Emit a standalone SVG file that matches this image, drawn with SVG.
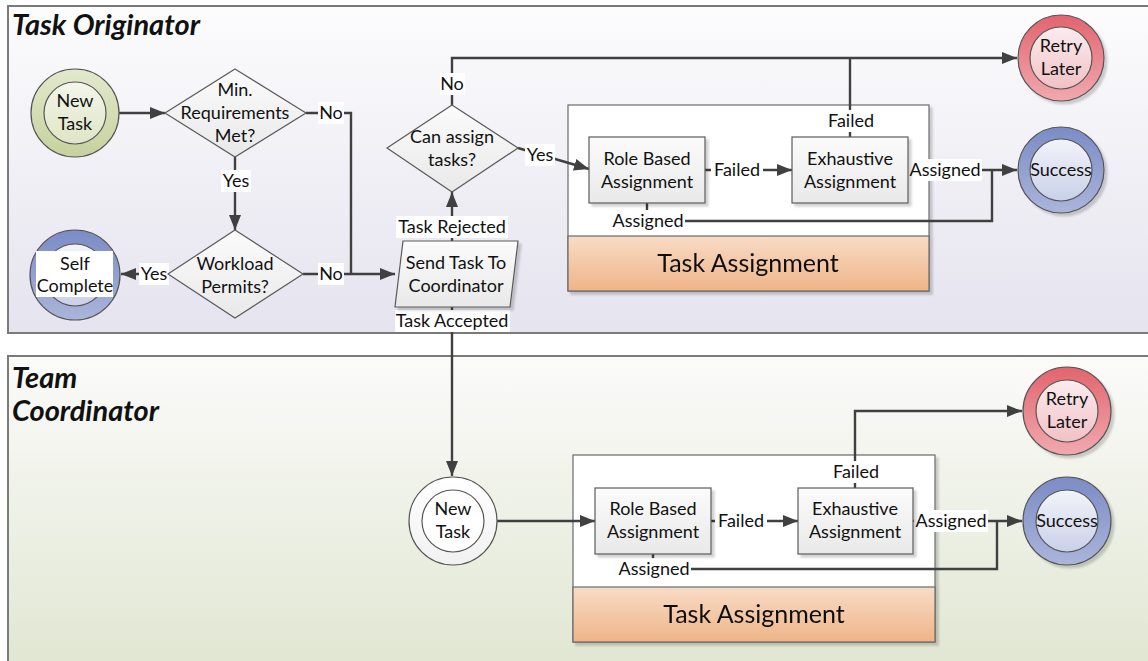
<svg xmlns="http://www.w3.org/2000/svg" width="1148" height="661" viewBox="0 0 1148 661">
  <defs>
    <linearGradient id="laneTop" x1="0" y1="0" x2="0" y2="1">
      <stop offset="0" stop-color="#fcfcfd"/>
      <stop offset="1" stop-color="#e5e3ee"/>
    </linearGradient>
    <linearGradient id="laneBottom" x1="0" y1="0" x2="0" y2="1">
      <stop offset="0" stop-color="#fbfbfa"/>
      <stop offset="1" stop-color="#e0e6d1"/>
    </linearGradient>
    <linearGradient id="boxFill" x1="0" y1="0" x2="0" y2="1">
      <stop offset="0" stop-color="#fbfbfb"/>
      <stop offset="1" stop-color="#e9e9e9"/>
    </linearGradient>
    <linearGradient id="bandFill" x1="0" y1="0" x2="0" y2="1">
      <stop offset="0" stop-color="#f8dcc6"/>
      <stop offset="1" stop-color="#efb488"/>
    </linearGradient>
    <linearGradient id="greenRing" x1="0" y1="0" x2="0" y2="1">
      <stop offset="0" stop-color="#e3e9cd"/>
      <stop offset="1" stop-color="#c6d19d"/>
    </linearGradient>
    <linearGradient id="greenCore" x1="0" y1="0" x2="0" y2="1">
      <stop offset="0" stop-color="#f4f6ea"/>
      <stop offset="1" stop-color="#dfe5c6"/>
    </linearGradient>
    <linearGradient id="blueRing" x1="0" y1="0" x2="0" y2="1">
      <stop offset="0" stop-color="#7b8cc6"/>
      <stop offset="1" stop-color="#aab5da"/>
    </linearGradient>
    <linearGradient id="blueCore" x1="0" y1="0" x2="0" y2="1">
      <stop offset="0" stop-color="#f3f4fa"/>
      <stop offset="1" stop-color="#c9d0e8"/>
    </linearGradient>
    <linearGradient id="redRing" x1="0" y1="0" x2="0" y2="1">
      <stop offset="0" stop-color="#e2646e"/>
      <stop offset="1" stop-color="#f1a9ae"/>
    </linearGradient>
    <linearGradient id="redCore" x1="0" y1="0" x2="0" y2="1">
      <stop offset="0" stop-color="#fbecee"/>
      <stop offset="1" stop-color="#f1c1c5"/>
    </linearGradient>
    <linearGradient id="whiteRing" x1="0" y1="0" x2="0" y2="1">
      <stop offset="0" stop-color="#ffffff"/>
      <stop offset="1" stop-color="#f1f1f1"/>
    </linearGradient>
    <marker id="arrow" viewBox="0 0 15 12" refX="15" refY="6" markerWidth="15" markerHeight="12" markerUnits="userSpaceOnUse" orient="auto">
      <path d="M0,0 L15,6 L0,12 Z" fill="#404040"/>
    </marker>
    <filter id="shadow" x="-10%" y="-10%" width="130%" height="130%">
      <feOffset dx="3" dy="3" in="SourceAlpha" result="off"/>
      <feGaussianBlur in="off" stdDeviation="1" result="blur"/>
      <feColorMatrix in="blur" type="matrix" values="0 0 0 0 0  0 0 0 0 0  0 0 0 0 0  0 0 0 0.18 0" result="sh"/>
      <feMerge><feMergeNode in="sh"/><feMergeNode in="SourceGraphic"/></feMerge>
    </filter>
  </defs>
  <style>
    text { font-family: Lato, "Liberation Sans", sans-serif; fill: #111; }
    .lane { stroke: #7a7a7a; stroke-width: 2; }
    .title { font-size: 29px; font-weight: bold; font-style: italic; }
    .node { font-size: 18px; text-anchor: middle; }
    .lbl { font-size: 18px; text-anchor: middle; }
    .big { font-size: 25px; text-anchor: middle; }
    .box { fill: url(#boxFill); stroke: #5a5a5a; stroke-width: 1.2; }
    .dia { fill: url(#boxFill); stroke: #5a5a5a; stroke-width: 1.2; }
    .ring { stroke: #555; stroke-width: 1.2; }
    .cont { fill: #ffffff; stroke: #6a6a6a; stroke-width: 1.2; }
    .band { fill: url(#bandFill); stroke: #6a6a6a; stroke-width: 1.2; }
    .edge { fill: none; stroke: #404040; stroke-width: 2.4; }
    .bg { fill: #ffffff; }
  </style>

  <!-- swimlanes -->
  <g id="lane-originator">
    <rect x="8" y="6" width="1150" height="327" fill="url(#laneTop)" class="lane"/>
    <text x="12" y="35" class="title">Task Originator</text>
  </g>
  <g id="lane-coordinator">
    <rect x="8" y="356" width="1150" height="320" fill="url(#laneBottom)" class="lane"/>
    <text x="12" y="388" class="title">Team</text>
    <text x="12" y="421" class="title">Coordinator</text>
  </g>

  <!-- task assignment containers -->
  <g id="assign-top" filter="url(#shadow)">
    <rect x="568" y="105" width="361" height="186" class="cont"/>
    <rect x="568" y="236" width="361" height="55" class="band"/>
    <text x="748" y="272" class="big">Task Assignment</text>
  </g>
  <g id="assign-bottom" filter="url(#shadow)">
    <rect x="573" y="455" width="362" height="187" class="cont"/>
    <rect x="573" y="587" width="362" height="55" class="band"/>
    <text x="754" y="623" class="big">Task Assignment</text>
  </g>

  <!-- connectors -->
  <g id="connectors">
    <path d="M119,113 H165" class="edge" marker-end="url(#arrow)"/>
    <path d="M235,157 V230" class="edge" marker-end="url(#arrow)"/>
    <path d="M306,113 H351 V274" class="edge"/>
    <path d="M168,274 H121" class="edge" marker-end="url(#arrow)"/>
    <path d="M303,274 H395" class="edge" marker-end="url(#arrow)"/>
    <path d="M452,241 V192" class="edge" marker-end="url(#arrow)"/>
    <path d="M452,105 V58 H1017" class="edge" marker-end="url(#arrow)"/>
    <path d="M518,148 L589,169" class="edge" marker-end="url(#arrow)"/>
    <path d="M705,170 H792" class="edge" marker-end="url(#arrow)"/>
    <path d="M850,137 V58" class="edge"/>
    <path d="M908,170 H1017" class="edge" marker-end="url(#arrow)"/>
    <path d="M647,203 V221 H992 V170" class="edge"/>
    <path d="M452,307 V476" class="edge" marker-end="url(#arrow)"/>
    <path d="M497,521 H595" class="edge" marker-end="url(#arrow)"/>
    <path d="M711,521 H798" class="edge" marker-end="url(#arrow)"/>
    <path d="M855,488 V411 H1022" class="edge" marker-end="url(#arrow)"/>
    <path d="M913,521 H1022" class="edge" marker-end="url(#arrow)"/>
    <path d="M653,554 V569 H997 V521" class="edge"/>

    <!-- connector labels -->
    <rect x="318" y="102" width="26" height="22" class="bg"/>
    <text x="331" y="119" class="lbl">No</text>
    <rect x="221" y="170" width="30" height="22" class="bg"/>
    <text x="236" y="187" class="lbl">Yes</text>
    <rect x="139" y="263" width="30" height="22" class="bg"/>
    <text x="154" y="280" class="lbl">Yes</text>
    <rect x="318" y="263" width="26" height="22" class="bg"/>
    <text x="331" y="280" class="lbl">No</text>
    <rect x="396" y="216" width="112" height="22" class="bg"/>
    <text x="452" y="233" class="lbl">Task Rejected</text>
    <rect x="395" y="310" width="115" height="22" class="bg"/>
    <text x="452" y="327" class="lbl">Task Accepted</text>
    <rect x="440" y="73" width="25" height="22" class="bg"/>
    <text x="452" y="90" class="lbl">No</text>
    <rect x="525" y="144" width="30" height="22" class="bg"/>
    <text x="540" y="161" class="lbl">Yes</text>
    <rect x="711" y="159" width="52" height="22" class="bg"/>
    <text x="737" y="176" class="lbl">Failed</text>
    <rect x="825" y="110" width="52" height="22" class="bg"/>
    <text x="851" y="127" class="lbl">Failed</text>
    <rect x="908" y="159" width="74" height="22" class="bg"/>
    <text x="945" y="176" class="lbl">Assigned</text>
    <rect x="611" y="210" width="74" height="22" class="bg"/>
    <text x="648" y="227" class="lbl">Assigned</text>
    <rect x="715" y="510" width="52" height="22" class="bg"/>
    <text x="741" y="527" class="lbl">Failed</text>
    <rect x="829" y="461" width="52" height="22" class="bg"/>
    <text x="856" y="478" class="lbl">Failed</text>
    <rect x="914" y="510" width="74" height="22" class="bg"/>
    <text x="951" y="527" class="lbl">Assigned</text>
    <rect x="617" y="558" width="74" height="22" class="bg"/>
    <text x="654" y="575" class="lbl">Assigned</text>
  </g>

  <!-- originator nodes -->
  <g id="new-task-top">
    <circle cx="75" cy="113" r="44" fill="url(#greenRing)" class="ring"/>
    <circle cx="75" cy="113" r="31" fill="url(#greenCore)" class="ring"/>
    <text x="75" y="107" class="node">New</text>
    <text x="75" y="130" class="node">Task</text>
  </g>
  <g id="min-requirements">
    <polygon points="235,69 306,113 235,157 165,113" class="dia"/>
    <text x="235" y="96" class="node">Min.</text>
    <text x="235" y="119" class="node">Requirements</text>
    <text x="235" y="142" class="node">Met?</text>
  </g>
  <g id="workload-permits">
    <polygon points="235,230 303,274 235,318 168,274" class="dia"/>
    <text x="235" y="270" class="node">Workload</text>
    <text x="235" y="293" class="node">Permits?</text>
  </g>
  <g id="self-complete">
    <circle cx="75" cy="275" r="45" fill="url(#blueRing)" class="ring"/>
    <circle cx="75" cy="275" r="31" fill="url(#blueCore)" class="ring"/>
    <rect x="36" y="251" width="77" height="46" class="bg"/>
    <text x="75" y="270" class="node">Self</text>
    <text x="75" y="292" class="node">Complete</text>
  </g>
  <g id="send-task">
    <polygon points="403,241 518,241 510,307 395,307" class="box" filter="url(#shadow)"/>
    <text x="456" y="269" class="node">Send Task To</text>
    <text x="456" y="292" class="node">Coordinator</text>
  </g>
  <g id="can-assign">
    <polygon points="452,105 518,148 452,192 387,148" class="dia"/>
    <text x="452" y="143" class="node">Can assign</text>
    <text x="452" y="166" class="node">tasks?</text>
  </g>
  <g id="role-top">
    <rect x="589" y="137" width="116" height="66" class="box" filter="url(#shadow)"/>
    <text x="647" y="165" class="node">Role Based</text>
    <text x="647" y="188" class="node">Assignment</text>
  </g>
  <g id="exhaustive-top">
    <rect x="792" y="137" width="116" height="66" class="box" filter="url(#shadow)"/>
    <text x="850" y="165" class="node">Exhaustive</text>
    <text x="850" y="188" class="node">Assignment</text>
  </g>
  <g id="retry-top">
    <circle cx="1061" cy="58" r="43" fill="url(#redRing)" class="ring" filter="url(#shadow)"/>
    <circle cx="1061" cy="58" r="31" fill="url(#redCore)" class="ring"/>
    <text x="1061" y="52" class="node">Retry</text>
    <text x="1061" y="75" class="node">Later</text>
  </g>
  <g id="success-top">
    <circle cx="1061" cy="170" r="43" fill="url(#blueRing)" class="ring" filter="url(#shadow)"/>
    <circle cx="1061" cy="170" r="31" fill="url(#blueCore)" class="ring"/>
    <text x="1061" y="176" class="node">Success</text>
  </g>

  <!-- coordinator nodes -->
  <g id="new-task-bottom">
    <circle cx="453" cy="521" r="44" fill="url(#whiteRing)" class="ring"/>
    <circle cx="453" cy="521" r="31" fill="#ffffff" class="ring"/>
    <text x="453" y="515" class="node">New</text>
    <text x="453" y="538" class="node">Task</text>
  </g>
  <g id="role-bottom">
    <rect x="595" y="488" width="116" height="66" class="box" filter="url(#shadow)"/>
    <text x="653" y="515" class="node">Role Based</text>
    <text x="653" y="538" class="node">Assignment</text>
  </g>
  <g id="exhaustive-bottom">
    <rect x="798" y="488" width="115" height="66" class="box" filter="url(#shadow)"/>
    <text x="855" y="515" class="node">Exhaustive</text>
    <text x="855" y="538" class="node">Assignment</text>
  </g>
  <g id="retry-bottom">
    <circle cx="1067" cy="411" r="44" fill="url(#redRing)" class="ring" filter="url(#shadow)"/>
    <circle cx="1067" cy="411" r="31" fill="url(#redCore)" class="ring"/>
    <text x="1067" y="405" class="node">Retry</text>
    <text x="1067" y="428" class="node">Later</text>
  </g>
  <g id="success-bottom">
    <circle cx="1067" cy="521" r="44" fill="url(#blueRing)" class="ring" filter="url(#shadow)"/>
    <circle cx="1067" cy="521" r="31" fill="url(#blueCore)" class="ring"/>
    <text x="1067" y="527" class="node">Success</text>
  </g>
</svg>
